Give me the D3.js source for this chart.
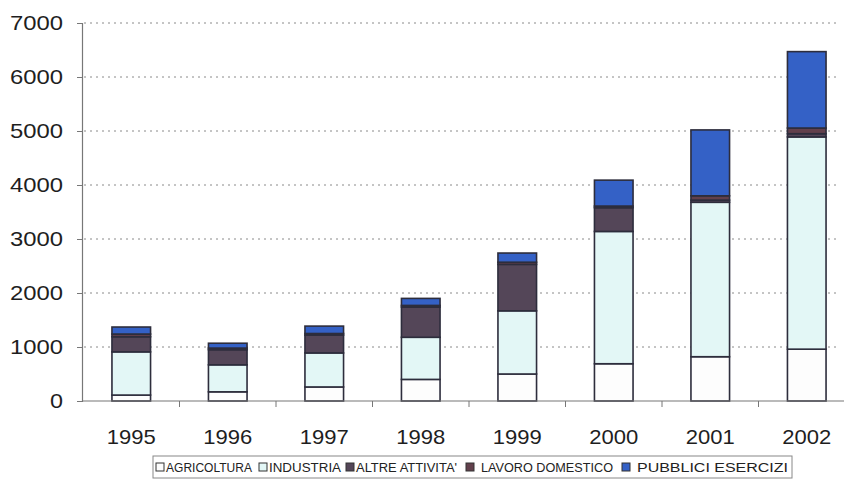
<!DOCTYPE html>
<html><head><meta charset="utf-8">
<script src="https://cdn.jsdelivr.net/npm/d3@7"></script>
<style>html,body{margin:0;padding:0;background:#fff;overflow:hidden}</style>
</head><body>
<svg id="c" width="844" height="481"></svg>
<script>
const years = ['1995','1996','1997','1998','1999','2000','2001','2002'];
const agricoltura = [110, 170, 260, 400, 500, 690, 820, 960];
const industria = [800, 500, 630, 780, 1170, 2450, 2860, 3930];
const altreAttivita = [280, 280, 330, 560, 860, 440, 40, 60];
const lavoroDomestico = [50, 30, 30, 30, 40, 30, 80, 105];
const pubbliciEsercizi = [130, 90, 137, 130, 170, 480, 1220, 1415];
const seriesNames = ['AGRICOLTURA','INDUSTRIA',"ALTRE ATTIVITA'",'LAVORO DOMESTICO','PUBBLICI ESERCIZI'];
const yTicks = [0,1000,2000,3000,4000,5000,6000,7000];

const colors = ['#fdfdfd','#e3f7f6','#544658','#62404c','#3461c6'];
const keys = ['a','i','t','l','p'];
const rows = years.map((y,k)=>({year:y,a:agricoltura[k],i:industria[k],t:altreAttivita[k],l:lavoroDomestico[k],p:pubbliciEsercizi[k]}));
const stacked = d3.stack().keys(keys)(rows);

const svg = d3.select('#c');
const x = d3.scaleBand().domain(years).range([83, 855]).paddingInner(0.6).paddingOuter(0.3);
const y = d3.scaleLinear().domain([0,7000]).range([401, 23]);

// gridlines
svg.append('g').selectAll('line').data(yTicks.filter(d=>d>0)).join('line')
  .attr('x1',84).attr('x2',840).attr('y1',d=>y(d)).attr('y2',d=>y(d))
  .attr('stroke','#8a8a8a').attr('stroke-width',1).attr('stroke-dasharray','2,4');

// bars
svg.append('g').selectAll('g').data(stacked).join('g')
  .attr('fill',(d,i)=>colors[i])
  .selectAll('rect').data(d=>d).join('rect')
  .attr('x',d=>x(d.data.year)).attr('width',x.bandwidth())
  .attr('y',d=>y(d[1])).attr('height',d=>y(d[0])-y(d[1]))
  .attr('stroke','#2d2d3c').attr('stroke-width',1.6);

// y axis
const yAxis = svg.append('g').attr('transform','translate(82,0)')
  .call(d3.axisLeft(y).tickValues(yTicks).tickSize(5).tickFormat(d3.format('d')));
yAxis.select('.domain').attr('stroke','#777').attr('stroke-width',1.2);
yAxis.selectAll('.tick line').attr('stroke','#777');
yAxis.selectAll('text').attr('font-family','Liberation Sans, Arial, sans-serif')
  .attr('font-size',21).attr('fill','#1e1e1e').attr('x',-19)
  .attr('textLength',53).attr('lengthAdjust','spacingAndGlyphs');
yAxis.selectAll('.tick').filter(d=>d===0).select('text').attr('textLength',13);

// x axis
const xAxis = svg.append('g').attr('transform','translate(0,401)')
  .call(d3.axisBottom(x).tickSize(0).tickPadding(0));
xAxis.select('.domain').attr('stroke','#777').attr('stroke-width',1.2).attr('d','M82,0H844');
xAxis.selectAll('text').attr('font-family','Liberation Sans, Arial, sans-serif')
  .attr('font-size',21).attr('fill','#1e1e1e').attr('dy',0).attr('y',43)
  .attr('textLength',49).attr('lengthAdjust','spacingAndGlyphs');
// category boundary ticks
const bounds = years.slice(1).map(yr=>x(yr)-x.step()*x.paddingInner()/2);
svg.append('g').selectAll('line').data(bounds).join('line')
  .attr('x1',d=>d).attr('x2',d=>d).attr('y1',401).attr('y2',407)
  .attr('stroke','#777');

// legend
const lg = svg.append('g');
lg.append('rect').attr('x',153).attr('y',456).attr('width',639).attr('height',22)
  .attr('fill','none').attr('stroke','#888').attr('stroke-width',1);
const legX = [156, 259, 346, 466, 622];
const legTx = [166, 269, 356, 481, 637];
const legW = [86, 72, 101, 132, 151];
seriesNames.forEach((n,i)=>{
  lg.append('rect').attr('x',legX[i]).attr('y',463).attr('width',8).attr('height',8)
    .attr('fill',colors[i]).attr('stroke','#333').attr('stroke-width',1);
  lg.append('text').attr('x',legTx[i]).attr('y',472).text(n)
    .attr('font-family','Liberation Sans, Arial, sans-serif').attr('font-size',12)
    .attr('fill','#222').attr('textLength',legW[i]).attr('lengthAdjust','spacingAndGlyphs');
});
</script>
</body></html>
